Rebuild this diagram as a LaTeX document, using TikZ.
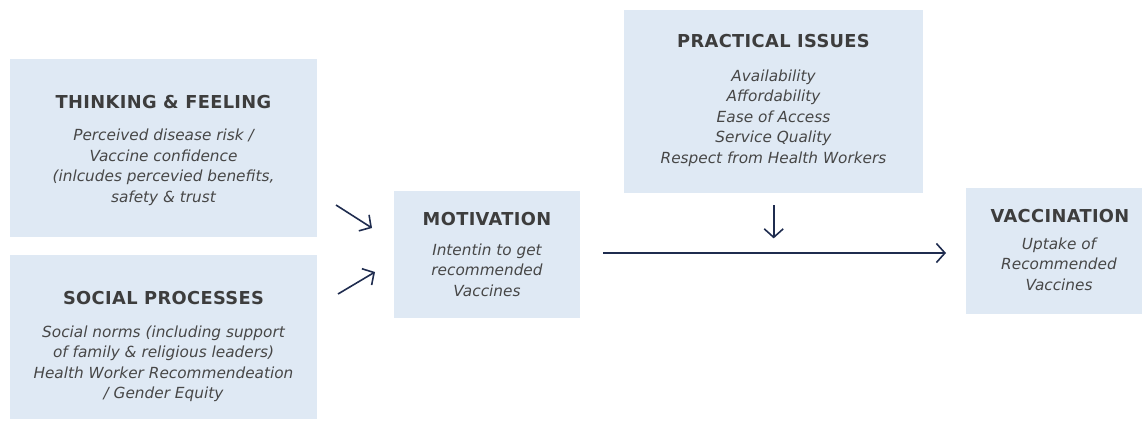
\documentclass[tikz,border=0pt]{standalone}
\usepackage{fontspec}
\setmainfont{DejaVu Sans}
\newfontfamily\headfont[LetterSpace=2]{DejaVu Sans}
\usetikzlibrary{arrows.meta}
\definecolor{boxfill}{HTML}{DFE9F4}
\definecolor{ink}{HTML}{3D3D3D}
\definecolor{navy}{HTML}{1F2C4F}
\begin{document}
\begin{tikzpicture}[x=1pt,y=-1pt,
  box/.style={fill=boxfill, draw=none, inner sep=0pt, anchor=north west},
  head/.style={anchor=base, text=ink, inner sep=0pt,
    font=\headfont\bfseries\fontsize{17.8}{20}\selectfont},
  body/.style={align=center, text=ink!95, inner sep=0pt,
    font=\itshape\fontsize{15.3}{20.5}\selectfont},
  arr/.style={draw=navy, line width=1.6pt,
    -{Straight Barb[length=8.5pt,width=19pt]}}]
\useasboundingbox (0,0) rectangle (1142,421);

% boxes
\node[box, minimum width=307pt, minimum height=178pt] (think) at (10,59) {};
\node[box, minimum width=307pt, minimum height=164pt] (social) at (10,255) {};
\node[box, minimum width=186pt, minimum height=127pt] (motiv) at (394,191) {};
\node[box, minimum width=299pt, minimum height=183pt] (prac) at (624,10) {};
\node[box, minimum width=176pt, minimum height=126pt] (vacc) at (966,188) {};

% headings
\node[head] (thinkH) at (163.5,108) {THINKING \& FEELING};
\node[head] (socialH) at (163.5,304) {SOCIAL PROCESSES};
\node[head] (motivH) at (487,225) {MOTIVATION};
\node[head] (pracH) at (773.5,47) {PRACTICAL ISSUES};
\node[head] (vaccH) at (1060,222) {VACCINATION};

% descriptions
\node[body] (thinkB) at (163.5,167.5) {Perceived disease risk /\\Vaccine confidence\\(inlcudes percevied benefits,\\safety \& trust};
\node[body] (socialB) at (163.5,364) {Social norms (including support\\of family \& religious leaders)\\Health Worker Recommendeation\\/ Gender Equity};
\node[body] (motivB) at (487,270) {Intentin to get\\recommended\\Vaccines};
\node[body] (pracB) at (773.5,118) {Availability\\Affordability\\Ease of Access\\Service Quality\\Respect from Health Workers};
\node[body] (vaccB) at (1059,264) {Uptake of\\Recommended\\Vaccines};

% connectors
\coordinate (t1) at (336,205);
\coordinate (t2) at (372,228);
\coordinate (s1) at (338,294);
\coordinate (s2) at (375,272);
\coordinate (flow) at (0,253);
\draw[arr] (t1) -- (t2);
\draw[arr] (s1) -- (s2);
\draw[arr, shorten <=23pt, shorten >=20pt] (motiv.east |- flow) -- (vacc.west |- flow);
\draw[arr, shorten <=12pt] (prac.south) -- ++(0,45);
\end{tikzpicture}
\end{document}
